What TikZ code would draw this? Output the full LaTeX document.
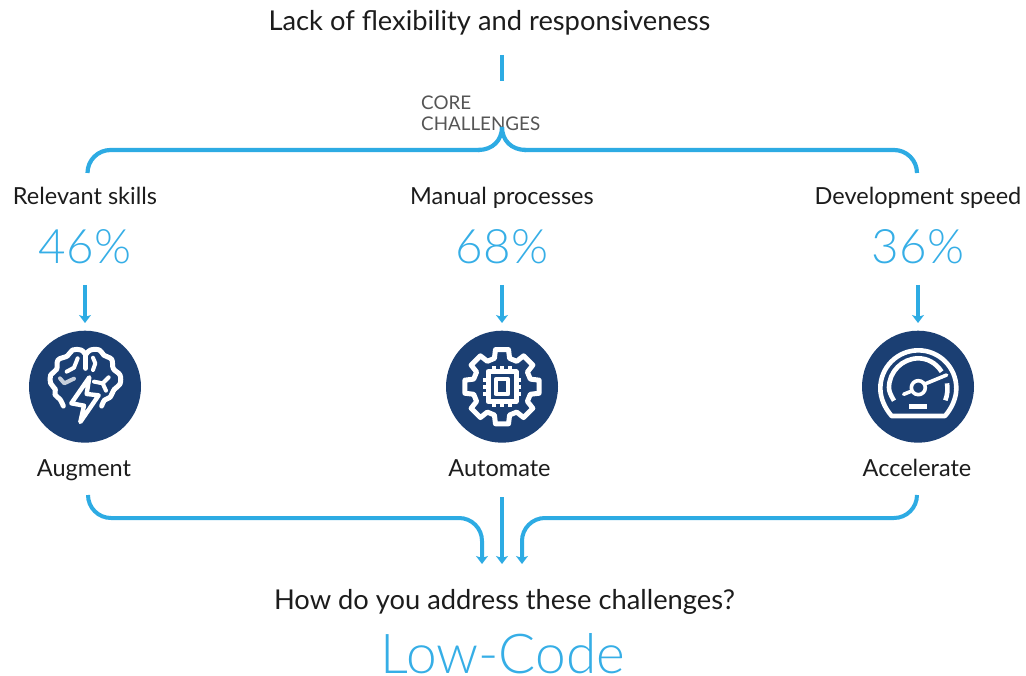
\documentclass[tikz,border=0pt]{standalone}
\usepackage{fontspec}
\usetikzlibrary{arrows.meta}
\setmainfont{Lato}
\newfontfamily\lightf{Lato Light}
\definecolor{lineblue}{HTML}{2DABE3}
\definecolor{pctblue}{HTML}{36AEE6}
\definecolor{navy}{HTML}{1B3F73}
\definecolor{ink}{HTML}{1C1C1C}
\definecolor{greytxt}{HTML}{555555}
\tikzset{
  conn/.style={draw=lineblue,line width=4.2pt,rounded corners=23pt},
  arr/.style={draw=lineblue,line width=4pt,-{Stealth[length=8pt,width=12pt,inset=2pt]}},
  arrc/.style={arr,rounded corners=23pt},
  head/.style={font=\fontsize{27.3}{30}\selectfont,text=ink,inner sep=0pt,anchor=base},
  lab/.style={font=\fontsize{23.5}{26}\selectfont,text=ink,inner sep=0pt,anchor=base},
  pct/.style={font=\lightf\fontsize{47.5}{52}\selectfont,text=pctblue,inner sep=0pt,anchor=base},
  disc/.style={circle,fill=navy,minimum size=112pt,inner sep=0pt},
  icon/.style={draw=white,line width=5pt,line cap=round,line join=round},
  iconthin/.style={draw=white,line width=4pt,line cap=round,line join=round}
}
\begin{document}
\begin{tikzpicture}[x=1pt,y=-1pt]
\useasboundingbox (0,0) rectangle (1026,676);
\node[head] (title) at (489.5,30.5) {Lack of flexibility and responsiveness};
\node[font=\fontsize{18.8}{21}\selectfont,text=greytxt,inner sep=0pt,anchor=base west] (core) at (421,110) {CORE};
\node[font=\fontsize{18.8}{21}\selectfont,text=greytxt,inner sep=0pt,anchor=base west] (chal) at (421,131) {CHALLENGES};
\node[lab] (t1) at (85,205) {Relevant skills};
\node[lab] (t2) at (502,205) {Manual processes};
\node[lab] (t3) at (918,205) {Development speed};
\node[pct] (p1) at (85,264) {46\%};
\node[pct] (p2) at (502,264) {68\%};
\node[pct] (p3) at (918,264) {36\%};
\node[disc] (d1) at (85,386.7) {};
\node[disc] (d2) at (502,386.7) {};
\node[disc] (d3) at (918,386.7) {};
\node[lab] (a1) at (84,476) {Augment};
\node[lab] (a2) at (499.5,476) {Automate};
\node[lab] (a3) at (917,476) {Accelerate};
\node[head] (q) at (504.5,609.5) {How do you address these challenges?};
\node[font=\lightf\fontsize{55}{58}\selectfont,text=pctblue,inner sep=0pt,anchor=base] (lc) at (503,673) {Low-Code};
% named ends
\coordinate (topa) at (502,55);
\coordinate (topb) at (502,81);
\coordinate (tip) at (502,127);
\coordinate (bl) at (87.5,173);
\coordinate (br) at (917,173);
\coordinate (ml) at (480,150);
\coordinate (mr) at (524,150);
\coordinate (s1) at (85,285);\coordinate (e1) at (85,323);
\coordinate (s2) at (502,285);\coordinate (e2) at (502,323);
\coordinate (s3) at (918,285);\coordinate (e3) at (918,323);
\coordinate (lb1) at (88,495);\coordinate (lb2) at (482,564);
\coordinate (cb1) at (502,497);\coordinate (cb2) at (502,564);
\coordinate (rb1) at (917,495);\coordinate (rb2) at (522,564);
\coordinate (lc1) at (88,518);\coordinate (lc2) at (482,518);
\coordinate (rc1) at (917,518);\coordinate (rc2) at (522,518);
% connectors
\draw[draw=lineblue,line width=4.5pt] (topa) -- (topb);
\draw[conn] (bl) |- (ml);
\draw[conn] (br) |- (mr);
\draw[draw=lineblue,line width=4.2pt] (tip) .. controls (502,140) and (493,150) .. (478,150);
\draw[draw=lineblue,line width=4.2pt] (tip) .. controls (502,140) and (511,150) .. (526,150);
\draw[arr] (s1) -- (e1);
\draw[arr] (s2) -- (e2);
\draw[arr] (s3) -- (e3);
\draw[arrc] (lb1) -- (lc1) -- (lc2) -- (lb2);
\draw[arr,line width=4.5pt] (cb1) -- (cb2);
\draw[arrc] (rb1) -- (rc1) -- (rc2) -- (rb2);
% brain icon (zoom coordinates)
\begin{scope}[shift={(0pt,-320pt)},x=0.3333pt,y=-0.3333pt]
\draw[icon] plot[smooth,tension=0.6] coordinates {(190,258) (180,238) (165,224) (166,208) (152,190) (152,165) (170,148) (174,120) (202,108) (218,90) (243,90) (257,104)};
\draw[icon] (257,104) -- (257,145);
\draw[icon] plot[smooth,tension=0.6] coordinates {(257,104) (272,90) (298,90) (312,106) (335,118) (340,146) (360,165) (360,192) (343,208) (330,232) (314,240) (305,258)};
\draw[iconthin] (200,155) -- (222,143) -- (233,115);
\draw[iconthin] (279,113) -- (286,130) -- (279,150);
\draw[iconthin,draw=white!75!navy] (180,175) -- (193,190) -- (222,176);
\draw[iconthin] (282,185) -- (308,190) -- (326,172);
\draw[iconthin] (308,190) -- (318,212);
\draw[icon,line width=4.4pt,fill=navy] (268,172) -- (214,250) -- (252,257) -- (241,306) -- (296,226) -- (260,222) -- cycle;
\end{scope}
% gear icon
\begin{scope}[shift={(502pt,-386.7pt)},x=0.3333pt,y=-0.3333pt]
\draw[icon] (-15:88) \foreach \a in {0,45,...,315} {
   -- ({\a-15}:88) -- ({\a-10}:113) -- ({\a+10}:113) -- ({\a+15}:88)} -- cycle;
\draw[icon] (-42,-45) rectangle (42,45);
\draw[iconthin] (-19,-22) rectangle (19,22);
\foreach \v in {-23,0,23} {
  \draw[iconthin,line cap=butt] (\v,-45) -- (\v,-61);
  \draw[iconthin,line cap=butt] (\v,45) -- (\v,61);
}
\foreach \v in {-21,0,21} {
  \draw[iconthin,line cap=butt] (-42,\v) -- (-58,\v);
  \draw[iconthin,line cap=butt] (42,\v) -- (58,\v);
}
\end{scope}
% gauge icon
\begin{scope}[shift={(840pt,-320pt)},x=0.3333pt,y=-0.3333pt]
\draw[icon,line width=4.6pt] (155,288) -- (315,288) .. controls (335,265) and (349,235) .. (349,205)
  .. controls (349,142) and (298,91) .. (235,91) .. controls (172,91) and (121,142) .. (121,205)
  .. controls (121,235) and (135,265) .. (155,288);
\draw[icon,line width=4.6pt,line cap=butt] (162,242) .. controls (152,225) and (147,215) .. (147,203)
  .. controls (147,155) and (187,115) .. (235,115) .. controls (262,115) and (287,128) .. (305,155);
\draw[icon,line width=4.6pt,line cap=butt] (321,190) .. controls (324,208) and (322,225) .. (316,241);
\draw[iconthin,line width=3.6pt] (235,203) circle (21);
\draw[iconthin,line width=3.6pt] (257,191) -- (320,165);
\draw[iconthin,line width=3.6pt] (213,214) -- (191,223);
\fill[white] (208,251) rectangle (260,266);
\end{scope}
\end{tikzpicture}
\end{document}
